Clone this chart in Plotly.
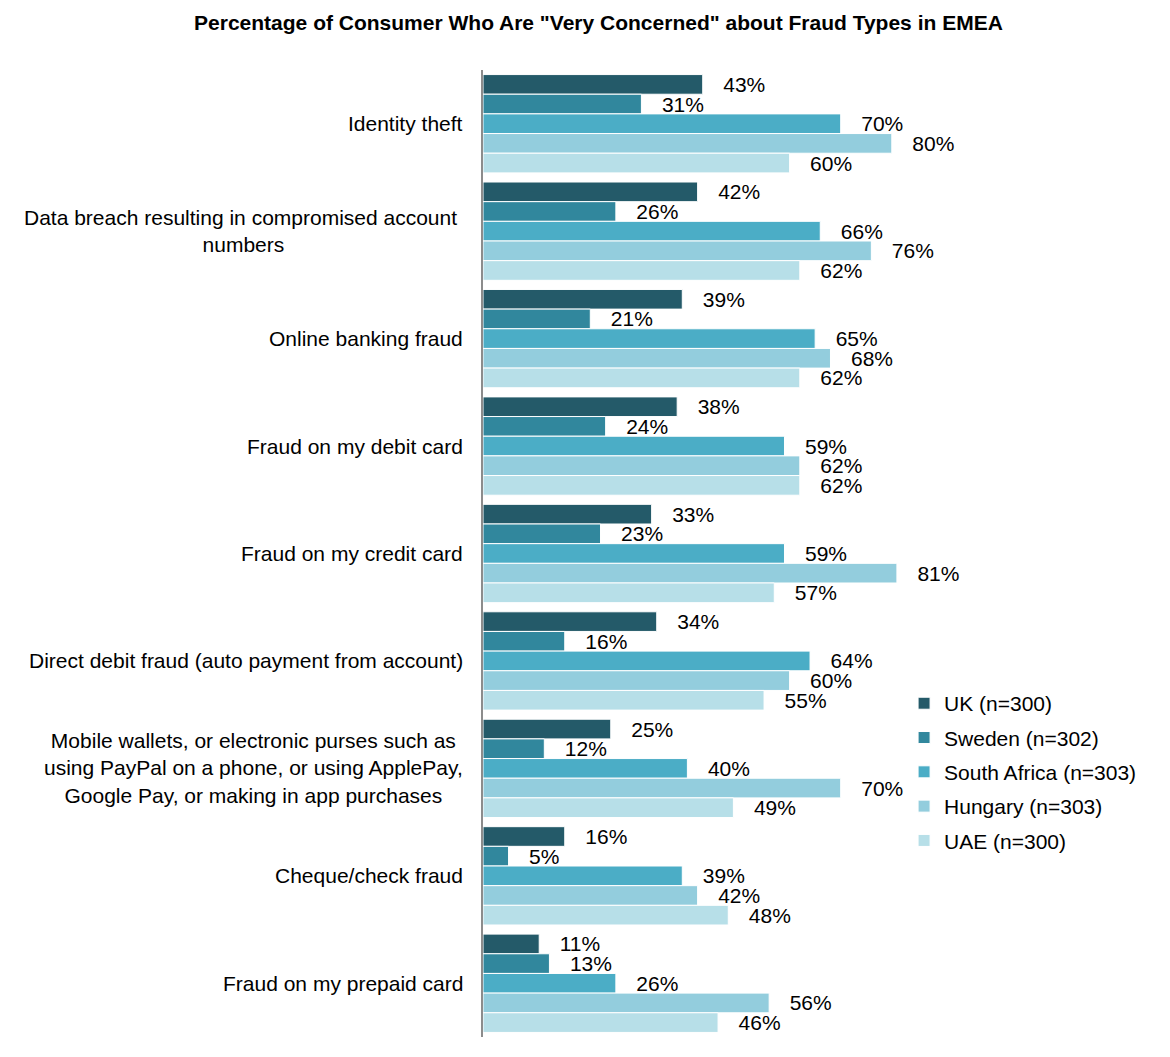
import plotly.graph_objects as go

# Fraud types (top to bottom) and country series
categories = [
    "Identity theft",
    "Data breach resulting in compromised account\u00a0<br>numbers",
    "Online banking fraud",
    "Fraud on my debit card",
    "Fraud on my credit card",
    "Direct debit fraud (auto payment from account)",
    "Mobile wallets, or electronic purses such as<br>using PayPal on a phone, or using ApplePay,<br>Google Pay, or making in app purchases",
    "Cheque/check fraud",
    "Fraud on my prepaid card",
]
series_names = ["UK (n=300)", "Sweden (n=302)", "South Africa (n=303)", "Hungary (n=303)", "UAE (n=300)"]
uk = [43, 42, 39, 38, 33, 34, 25, 16, 11]
sweden = [31, 26, 21, 24, 23, 16, 12, 5, 13]
south_africa = [70, 66, 65, 59, 59, 64, 40, 39, 26]
hungary = [80, 76, 68, 62, 81, 60, 70, 42, 56]
uae = [60, 62, 62, 62, 57, 55, 49, 48, 46]
series_values = [uk, sweden, south_africa, hungary, uae]
colors = ["#245A69", "#31879D", "#4BADC6", "#93CDDD", "#B7DFE8"]

FONT = "Liberation Sans, Arial, sans-serif"
FS = 21

fig = go.Figure()
for i, (name, vals, col) in enumerate(zip(series_names, series_values, colors)):
    fig.add_trace(go.Bar(
        y=categories,
        x=vals,
        name=name,
        orientation="h",
        marker=dict(color=col, line=dict(color="white", width=1)),
        text=[f"{v}%" for v in vals],
        texttemplate="\u00a0\u00a0\u00a0%{text}",
        textposition="outside",
        textfont=dict(family=FONT, size=FS, color="#000000"),
        constraintext="none",
        cliponaxis=False,
        legendgroup=f"g{i}",
        hoverinfo="skip",
    ))

# Category labels, centred within a right-aligned block next to the axis
for cat in categories:
    fig.add_annotation(
        x=0, y=cat, xref="x", yref="y",
        text=cat, showarrow=False,
        xanchor="right", yanchor="middle", align="center",
        xshift=-18,
        font=dict(family=FONT, size=FS, color="#000000"),
    )

fig.update_layout(
    width=1170, height=1057,
    margin=dict(l=483, r=176, t=70, b=20),
    paper_bgcolor="white", plot_bgcolor="white",
    barmode="group", bargap=0.085, bargroupgap=0,
    title=dict(
        text="<b>Percentage of Consumer Who Are \"Very Concerned\" about Fraud Types in EMEA</b>",
        x=0.5115, xanchor="center", y=0.979, yanchor="middle",
        font=dict(family=FONT, size=21, color="#000000"),
    ),
    xaxis=dict(range=[0, 100], visible=False, fixedrange=True),
    yaxis=dict(
        autorange="reversed", showticklabels=False, ticks="",
        showline=True, linecolor="#8C8C8C", linewidth=2,
        showgrid=False, zeroline=False,
    ),
    legend=dict(
        x=0.824, y=0.366, xanchor="left", yanchor="top",
        font=dict(family=FONT, size=FS, color="#000000"),
        tracegroupgap=4, bgcolor="rgba(0,0,0,0)",
    ),
    showlegend=True,
)

fig.write_html("out.html")
